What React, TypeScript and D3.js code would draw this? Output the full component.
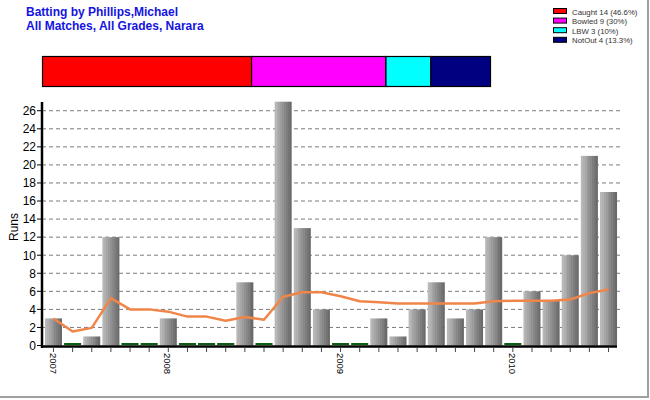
import React, { useEffect, useRef } from 'react';
import * as d3 from 'd3';

// innings by innings runs
const runs = [3, 0, 1, 12, 0, 0, 3, 0, 0, 0, 7, 0, 27, 13, 4, 0, 0, 3, 1, 4, 7, 3, 4, 12, 0, 6, 5, 10, 21, 17];
// running batting average (orange line)
const average = [3.0, 1.55, 1.95, 5.25, 4.0, 4.0, 3.75, 3.2, 3.2, 2.75, 3.15, 2.85, 5.4, 5.9, 5.9, 5.45, 4.9, 4.8, 4.65, 4.65, 4.65, 4.65, 4.65, 4.9, 4.95, 4.95, 4.95, 5.1, 5.8, 6.2];
const yearLabels = ['2007', '', '', '', '', '', '2008', '', '', '', '', '', '', '', '', '2009', '', '', '', '', '', '', '', '', '2010', '', '', '', '', ''];
const yTicks = [0, 2, 4, 6, 8, 10, 12, 14, 16, 18, 20, 22, 24, 26];

const dismissals = ['Caught', 'Bowled', 'LBW', 'NotOut'];
const dismissalCounts = [14, 9, 3, 4];
const dismissalPct = ['46.6%', '30%', '10%', '13.3%'];
const dismissalColors = ['#ff0000', '#ff00ff', '#00ffff', '#000080'];

const titleLines = ['Batting by Phillips,Michael', 'All Matches, All Grades, Narara'];

const FONT = "'Liberation Sans', Arial, sans-serif";

const App = () => {
  const svgRef = useRef(null);

  useEffect(() => {
    const svg = d3.select(svgRef.current);
    svg.selectAll('*').remove();

    const W = 650;
    const H = 400;
    svg.attr('width', W).attr('height', H);

    svg.append('rect').attr('width', W).attr('height', H).attr('fill', '#ffffff');

    // window frame on right and bottom
    svg.append('line').attr('x1', 648).attr('x2', 648).attr('y1', 0).attr('y2', 398)
      .attr('stroke', '#a0a0a0').attr('stroke-width', 2);
    svg.append('line').attr('x1', 0).attr('x2', 649).attr('y1', 397).attr('y2', 397)
      .attr('stroke', '#a0a0a0').attr('stroke-width', 2);

    // bar shading
    const defs = svg.append('defs');
    const grad = defs.append('linearGradient').attr('id', 'barGrad')
      .attr('x1', '0%').attr('x2', '100%').attr('y1', '0%').attr('y2', '0%');
    const shades = ['#b8b8b8', '#b0b0b0', '#a6a6a6', '#9c9c9c', '#929292', '#888888', '#7e7e7e', '#747474', '#6a6a6a'];
    shades.forEach((c, i) => {
      grad.append('stop').attr('offset', `${(i / shades.length) * 100}%`).attr('stop-color', c);
      grad.append('stop').attr('offset', `${((i + 1) / shades.length) * 100}%`).attr('stop-color', c);
    });

    // title
    svg.append('g').selectAll('text').data(titleLines).enter().append('text')
      .attr('x', 26).attr('y', (d, i) => 16 + i * 14)
      .attr('font-family', FONT).attr('font-size', 12).attr('font-weight', 'bold')
      .attr('fill', '#1414e0').text((d) => d);

    // legend
    const legend = svg.append('g');
    dismissals.forEach((name, i) => {
      const y = 8 + i * 9.6;
      legend.append('rect').attr('x', 553.5).attr('y', y + 0.5).attr('width', 13).attr('height', 5)
        .attr('fill', dismissalColors[i]).attr('stroke', '#000').attr('stroke-width', 1);
      legend.append('text').attr('x', 572).attr('y', y + 6.5)
        .attr('font-family', FONT).attr('font-size', 7.8).attr('fill', '#333')
        .text(`${name} ${dismissalCounts[i]} (${dismissalPct[i]})`);
    });

    // stacked dismissal bar
    const total = d3.sum(dismissalCounts);
    const sx = d3.scaleLinear().domain([0, total]).range([42.5, 490.5]);
    let acc = 0;
    dismissalCounts.forEach((c, i) => {
      svg.append('rect').attr('x', sx(acc)).attr('y', 56.5).attr('width', sx(acc + c) - sx(acc)).attr('height', 30)
        .attr('fill', dismissalColors[i]).attr('stroke', '#000').attr('stroke-width', 1.2);
      acc += c;
    });

    // main chart scales
    const x = d3.scaleBand().domain(d3.range(runs.length).map(String)).range([44, 618]).paddingInner(0.11).paddingOuter(0.05);
    const y = d3.scaleLinear().domain([0, 27]).range([345.5, 101.7]);
    const xLeft = 42;
    const xRight = 620;

    // gridlines
    svg.append('g').selectAll('line').data(yTicks.filter((t) => t > 0)).enter().append('line')
      .attr('x1', xLeft).attr('x2', xRight).attr('y1', (d) => y(d)).attr('y2', (d) => y(d))
      .attr('stroke', '#7a7a7a').attr('stroke-width', 1).attr('stroke-dasharray', '4,3');

    // bars
    const cx = (i) => x(String(i)) + x.bandwidth() / 2;
    svg.append('g').selectAll('rect').data(runs).enter().append('rect')
      .attr('x', (d, i) => x(String(i)))
      .attr('width', x.bandwidth())
      .attr('y', (d) => (d > 0 ? y(d) : y(0) - 2.5))
      .attr('height', (d) => (d > 0 ? y(0) - y(d) : 2))
      .attr('fill', (d) => (d > 0 ? 'url(#barGrad)' : '#0b5d12'));

    // average line
    const line = d3.line().x((d, i) => cx(i)).y((d) => y(d));
    svg.append('path').datum(average)
      .attr('fill', 'none').attr('stroke', '#f0854a').attr('stroke-width', 2.5)
      .attr('stroke-linejoin', 'round').attr('d', line);

    // y axis
    svg.append('line').attr('x1', xLeft).attr('x2', xLeft).attr('y1', 102).attr('y2', 348)
      .attr('stroke', '#000').attr('stroke-width', 2.5);
    const yAxis = svg.append('g');
    yTicks.forEach((t) => {
      yAxis.append('line').attr('x1', 37).attr('x2', xLeft).attr('y1', y(t)).attr('y2', y(t))
        .attr('stroke', '#000').attr('stroke-width', 1);
      yAxis.append('text').attr('x', 36).attr('y', y(t)).attr('dy', '0.36em')
        .attr('text-anchor', 'end').attr('font-family', FONT).attr('font-size', 12)
        .attr('fill', '#000').text(t);
    });

    svg.append('text').attr('transform', 'translate(18,227) rotate(-90)')
      .attr('text-anchor', 'middle').attr('font-family', FONT).attr('font-size', 12)
      .attr('fill', '#000').text('Runs');

    // x axis
    svg.append('line').attr('x1', xLeft).attr('x2', 617).attr('y1', 346.5).attr('y2', 346.5)
      .attr('stroke', '#000').attr('stroke-width', 2.5);
    const xAxis = svg.append('g');
    runs.forEach((d, i) => {
      xAxis.append('line').attr('x1', cx(i)).attr('x2', cx(i)).attr('y1', 347).attr('y2', 352)
        .attr('stroke', '#444').attr('stroke-width', 1);
      if (yearLabels[i]) {
        xAxis.append('text').attr('transform', `translate(${cx(i) - 0.5},353) rotate(90)`)
          .attr('dy', '0.35em').attr('font-family', FONT).attr('font-size', 9.5)
          .attr('fill', '#000').text(yearLabels[i]);
      }
    });
  }, []);

  return (
    <div style={{ position: 'absolute', left: 0, top: 0 }}>
      <svg ref={svgRef} style={{ display: 'block' }}></svg>
    </div>
  );
};

export default App;
